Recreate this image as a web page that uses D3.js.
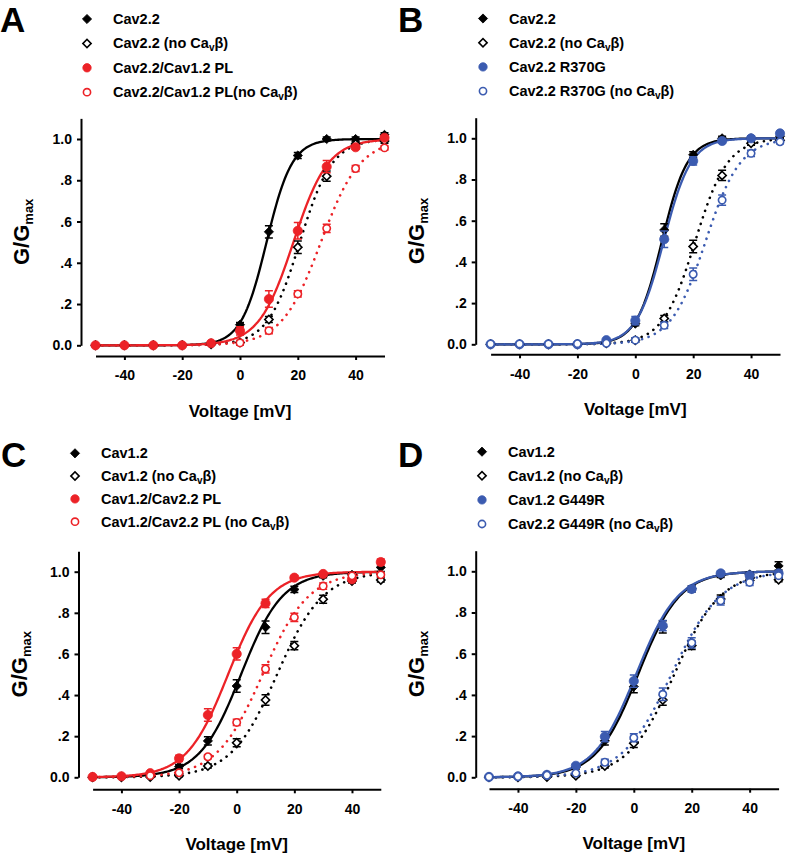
<!DOCTYPE html>
<html>
<head>
<meta charset="utf-8">
<script src="https://cdn.jsdelivr.net/npm/d3@7"></script>
<style>
  body { margin: 0; background: #fff; }
  svg { font-family: "Liberation Sans", Arial, sans-serif; font-weight: bold; }
</style>
</head>
<body>
<svg id="fig" width="786" height="853"></svg>
<script>
// test voltages (mV)
const volts = [-50, -40, -30, -20, -10, 0, 10, 20, 30, 40, 50];
const xTicks = [-40, -20, 0, 20, 40];
const yTicks = [0, 0.2, 0.4, 0.6, 0.8, 1.0];
const yTickLabels = ["0.0", ".2", ".4", ".6", ".8", "1.0"];

// Panel A
const aCav22 = [0, 0, 0, 0, 0.01, 0.10, 0.55, 0.92, 1.0, 1.0, 1.02];
const aCav22Err = [0, 0, 0, 0, 0.005, 0.01, 0.03, 0.015, 0.01, 0.01, 0.01];
const aCav22NoB = [0, 0, 0, 0, 0.005, 0.013, 0.125, 0.475, 0.82, 0.976, 0.99];
const aCav22NoBErr = [0, 0, 0, 0, 0.005, 0.01, 0.015, 0.03, 0.025, 0.01, 0.01];
const aPL = [0, 0, 0, 0, 0.01, 0.07, 0.224, 0.555, 0.866, 0.96, 1.006];
const aPLErr = [0, 0, 0, 0, 0.005, 0.02, 0.04, 0.04, 0.03, 0.01, 0.01];
const aPLNoB = [null, null, null, null, null, 0.012, 0.071, 0.249, 0.567, 0.857, 0.957];
const aPLNoBErr = [0, 0, 0, 0, 0, 0.01, 0.015, 0.015, 0.02, 0.015, 0.01];
// Boltzmann fits [V1/2, k]
const aFits = [[9.2, 4.4], [20.7, 5.6], [18.5, 6.0], [28.0, 6.8]];
const aLabels = ["Cav2.2", "Cav2.2 (no Ca_vβ)", "Cav2.2/Cav1.2 PL", "Cav2.2/Cav1.2 PL(no Ca_vβ)"];

// Panel B
const bCav22 = [0, 0, 0, 0, 0.01, 0.10, 0.555, 0.92, 1.0, 1.0, 1.01];
const bCav22Err = [0, 0, 0, 0, 0.005, 0.01, 0.03, 0.015, 0.01, 0.01, 0.01];
const bCav22NoB = [0, 0, 0, 0, 0.005, 0.02, 0.125, 0.475, 0.82, 0.976, 0.99];
const bCav22NoBErr = [0, 0, 0, 0, 0.005, 0.01, 0.015, 0.03, 0.025, 0.01, 0.01];
const bR370G = [0, 0, 0, 0, 0.02, 0.115, 0.51, 0.89, 0.987, 1.0, 1.024];
const bR370GErr = [0, 0, 0, 0, 0.005, 0.02, 0.04, 0.02, 0.01, 0.01, 0.01];
const bR370GNoB = [0.002, 0.002, 0.002, 0.003, 0.005, 0.02, 0.092, 0.34, 0.70, 0.927, 0.983];
const bR370GNoBErr = [0, 0, 0, 0, 0.005, 0.01, 0.015, 0.03, 0.025, 0.015, 0.01];
const bFits = [[9.2, 4.4], [20.7, 5.6], [9.8, 4.7], [24.3, 6.0]];
const bLabels = ["Cav2.2", "Cav2.2 (no Ca_vβ)", "Cav2.2 R370G", "Cav2.2 R370G (no Ca_vβ)"];

// Panel C
const cCav12 = [0, 0.004, 0.012, 0.052, 0.177, 0.444, 0.73, 0.914, 0.98, 0.985, 1.021];
const cCav12Err = [0, 0.003, 0.005, 0.01, 0.02, 0.03, 0.03, 0.015, 0.01, 0.01, 0.02];
const cCav12NoB = [0, 0, 0.002, 0.008, 0.055, 0.168, 0.376, 0.64, 0.866, 0.955, 0.96];
const cCav12NoBErr = [0, 0, 0.002, 0.005, 0.01, 0.02, 0.025, 0.02, 0.02, 0.01, 0.01];
const cPL = [0.002, 0.005, 0.02, 0.092, 0.303, 0.60, 0.846, 0.971, 0.989, 0.963, 1.047];
const cPLErr = [0, 0.003, 0.005, 0.015, 0.03, 0.03, 0.02, 0.01, 0.01, 0.01, 0.015];
const cPLNoB = [null, null, 0.008, 0.022, 0.10, 0.267, 0.527, 0.778, 0.93, 0.98, 0.985];
const cPLNoBErr = [0, 0, 0.003, 0.005, 0.01, 0.015, 0.02, 0.02, 0.015, 0.01, 0.01];
const cFits = [[1.5, 7.2], [14.0, 8.0], [-3.0, 7.2], [9.0, 8.0]];
const cLabels = ["Cav1.2", "Cav1.2 (no Ca_vβ)", "Cav1.2/Cav2.2 PL", "Cav1.2/Cav2.2 PL (no Ca_vβ)"];

// Panel D
const dCav12 = [0, 0.004, 0.012, 0.05, 0.177, 0.44, 0.73, 0.915, 0.98, 0.985, 1.026];
const dCav12Err = [0, 0.003, 0.005, 0.01, 0.02, 0.03, 0.03, 0.015, 0.01, 0.01, 0.02];
const dCav12NoB = [0, 0, 0.002, 0.008, 0.055, 0.165, 0.375, 0.64, 0.865, 0.955, 0.959];
const dCav12NoBErr = [0, 0, 0.002, 0.005, 0.01, 0.02, 0.025, 0.02, 0.02, 0.01, 0.01];
const dG449R = [0.002, 0.005, 0.012, 0.056, 0.197, 0.467, 0.736, 0.914, 0.99, 0.98, 0.99];
const dG449RErr = [0, 0.003, 0.005, 0.01, 0.025, 0.03, 0.025, 0.015, 0.01, 0.01, 0.01];
const dG449RNoB = [0.002, 0.004, 0.01, 0.02, 0.073, 0.192, 0.403, 0.653, 0.857, 0.946, 0.979];
const dG449RNoBErr = [0, 0.002, 0.003, 0.005, 0.015, 0.02, 0.03, 0.025, 0.02, 0.015, 0.01];
const dFits = [[1.5, 7.2], [14.0, 8.0], [0.8, 7.3], [13.0, 8.5]];
const dLabels = ["Cav1.2", "Cav1.2 (no Ca_vβ)", "Cav1.2 G449R", "Cav2.2 G449R (no Ca_vβ)"];

const RED = '#ec2227';
const BLUE = '#3b5bb0';

function makeSeries(labels, fits, vals, errs, color) {
    return [
        { label: labels[0], values: vals[0], errors: errs[0], fit: fits[0], color: '#000', shape: 'diamond', filled: true },
        { label: labels[1], values: vals[1], errors: errs[1], fit: fits[1], color: '#000', shape: 'diamond', filled: false },
        { label: labels[2], values: vals[2], errors: errs[2], fit: fits[2], color: color, shape: 'circle', filled: true },
        { label: labels[3], values: vals[3], errors: errs[3], fit: fits[3], color: color, shape: 'circle', filled: false }
    ];
}

const panels = [
    { letter: 'A', layout: { x0: 95.5, x1: 384.5, yZero: 345.3, yOne: 139, yAxisX: 81, xAxisY: 356, legX: 87, legY: 19, legDy: 24.4, letterX: 0, letterY: 32 },
      series: makeSeries(aLabels, aFits, [aCav22, aCav22NoB, aPL, aPLNoB], [aCav22Err, aCav22NoBErr, aPLErr, aPLNoBErr], RED) },
    { letter: 'B', layout: { x0: 490.6, x1: 780, yZero: 344.3, yOne: 138.3, yAxisX: 475.7, xAxisY: 354.3, legX: 483, legY: 18.5, legDy: 24.2, letterX: 398, letterY: 32 },
      series: makeSeries(bLabels, bFits, [bCav22, bCav22NoB, bR370G, bR370GNoB], [bCav22Err, bCav22NoBErr, bR370GErr, bR370GNoBErr], BLUE) },
    { letter: 'C', layout: { x0: 92.6, x1: 380.8, yZero: 777.3, yOne: 571.7, yAxisX: 78.5, xAxisY: 789.3, legX: 75, legY: 453.3, legDy: 22.8, letterX: 1, letterY: 467 },
      series: makeSeries(cLabels, cFits, [cCav12, cCav12NoB, cPL, cPLNoB], [cCav12Err, cCav12NoBErr, cPLErr, cPLNoBErr], RED) },
    { letter: 'D', layout: { x0: 489, x1: 778.6, yZero: 777.3, yOne: 571.3, yAxisX: 475.7, xAxisY: 788.7, legX: 482, legY: 451.7, legDy: 24.1, letterX: 398, letterY: 467 },
      series: makeSeries(dLabels, dFits, [dCav12, dCav12NoB, dG449R, dG449RNoB], [dCav12Err, dCav12NoBErr, dG449RErr, dG449RNoBErr], BLUE) }
];

const svg = d3.select('#fig');

function boltzmann(v, fit) {
    return 1 / (1 + Math.exp((fit[0] - v) / fit[1]));
}

// marker path for a series
function markerPath(shape, filled, legend) {
    if (shape === 'diamond') {
        return d3.symbol(d3.symbolSquare, filled ? 42 : 34)();
    }
    const r = filled ? (legend ? 4.2 : 4.6) : (legend ? 3.6 : 3.7);
    return d3.symbol(d3.symbolCircle, Math.PI * r * r)();
}

function appendMarker(g, s, cx, cy, legend) {
    g.append('path')
        .attr('d', markerPath(s.shape, s.filled, legend))
        .attr('transform', `translate(${cx},${cy})` + (s.shape === 'diamond' ? ' rotate(45)' : ''))
        .attr('fill', s.filled ? s.color : '#fff')
        .attr('stroke', s.color)
        .attr('stroke-width', s.filled ? 0.8 : 1.6);
}

function appendLabel(sel, label) {
    const parts = label.split('_v');
    sel.append('tspan').text(parts[0]);
    if (parts.length > 1) {
        sel.append('tspan').attr('font-size', 10).attr('dy', 3).text('v');
        sel.append('tspan').attr('dy', -3).text(parts[1]);
    }
}

function drawPanel(p) {
    const L = p.layout;
    const yTop = L.yZero - 1.1 * (L.yZero - L.yOne);
    const x = d3.scaleLinear().domain([-50, 50]).range([L.x0, L.x1]);
    const y = d3.scaleLinear().domain([0, 1.1]).range([L.yZero, yTop]);
    const g = svg.append('g');

    // panel letter
    g.append('text')
        .attr('x', L.letterX).attr('y', L.letterY)
        .attr('font-size', 35)
        .text(p.letter);

    // legend
    p.series.forEach((s, i) => {
        const ry = L.legY + i * L.legDy;
        appendMarker(g, s, L.legX, ry, true);
        const t = g.append('text')
            .attr('x', L.legX + 26).attr('y', ry + 5)
            .attr('font-size', 14.5);
        appendLabel(t, s.label);
    });

    // axes
    const yAxis = g.append('g')
        .attr('transform', `translate(${L.yAxisX},0)`)
        .call(d3.axisLeft(y).tickValues(yTicks)
            .tickFormat((d, i) => yTickLabels[i])
            .tickSize(4).tickSizeOuter(0).tickPadding(5));

    const xAxis = g.append('g')
        .attr('transform', `translate(0,${L.xAxisY})`)
        .call(d3.axisBottom(x).tickValues(xTicks)
            .tickFormat(d => String(d))
            .tickSize(4).tickSizeOuter(0).tickPadding(10.5));

    [yAxis, xAxis].forEach(a => {
        a.attr('font-family', null).attr('font-size', 14);
        a.select('.domain').attr('stroke-width', 2);
        a.selectAll('.tick line').attr('stroke-width', 2);
    });

    // axis titles
    g.append('text')
        .attr('x', (L.x0 + L.x1) / 2).attr('y', L.xAxisY + 60.5)
        .attr('text-anchor', 'middle')
        .attr('font-size', 17)
        .text('Voltage [mV]');

    const yt = g.append('text')
        .attr('transform', `translate(${L.yAxisX - 52},${(L.yZero + yTop) / 2}) rotate(-90)`)
        .attr('text-anchor', 'middle')
        .attr('font-size', 22);
    yt.append('tspan').text('G/G');
    yt.append('tspan').attr('font-size', 13).attr('dy', 4).text('max');

    // fitted Boltzmann curves
    const line = d3.line().x(d => x(d[0])).y(d => y(d[1]));
    const vs = d3.range(-50, 50.01, 0.5);
    p.series.forEach(s => {
        g.append('path')
            .attr('d', line(vs.map(v => [v, boltzmann(v, s.fit)])))
            .attr('fill', 'none')
            .attr('stroke', s.color)
            .attr('stroke-width', s.filled ? 2.3 : 2.6)
            .attr('stroke-linecap', 'round')
            .attr('stroke-dasharray', s.filled ? null : '0.1,6.8');
    });

    // error bars and points
    p.series.forEach(s => {
        const pts = volts.map((v, i) => ({ v: v, m: s.values[i], e: s.errors[i] }))
            .filter(d => d.m !== null);
        pts.forEach(d => {
            if (d.e > 0) {
                const cx = x(d.v), y1 = y(d.m - d.e), y2 = y(d.m + d.e);
                g.append('path')
                    .attr('d', `M${cx},${y1}V${y2}M${cx - 4},${y1}H${cx + 4}M${cx - 4},${y2}H${cx + 4}`)
                    .attr('fill', 'none')
                    .attr('stroke', s.color)
                    .attr('stroke-width', 1.5);
            }
        });
        pts.forEach(d => appendMarker(g, s, x(d.v), y(d.m), false));
    });
}

panels.forEach(drawPanel);
</script>
</body>
</html>
